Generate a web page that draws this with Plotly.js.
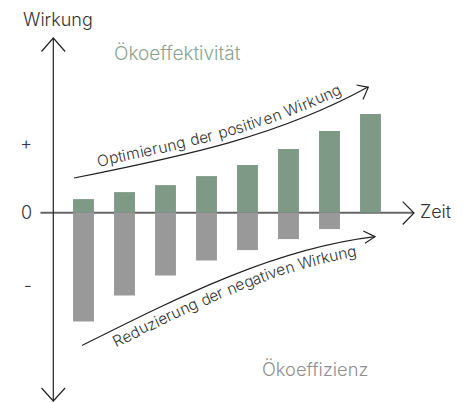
<!DOCTYPE html>
<html><head><meta charset="utf-8">
<script src="https://cdn.plot.ly/plotly-3.0.1.min.js"></script>
<style>html,body{margin:0;padding:0;background:#fff}</style>
</head><body><div id="chart" style="width:465px;height:402px"></div>
<script>
// ---- data ----
const periods = ['P1','P2','P3','P4','P5','P6','P7','P8'];
const positiveImpact = [1.35, 2.05, 2.75, 3.65, 4.75, 6.35, 8.15, 9.85];
const negativeImpact = [-10.9, -8.3, -6.3, -4.8, -3.75, -2.65, -1.65, 0];
const tickValues = [6.86, 0, -7.34];
const tickLabels = ['+', '0', '-'];
const yTitle = 'Wirkung';
const xTitle = 'Zeit';
const topLabel = 'Ökoeffektivität';
const bottomLabel = 'Ökoeffizienz';
const upperArrowText = 'Optimierung der positiven Wirkung';
const lowerArrowText = 'Reduzierung der negativen Wirkung';

// ---- layout geometry ----
const L = 40, T = 30, W = 420, H = 370;
const FONT = 'Inter';
const WEIGHT = 300;
const px = x => (x - L) / W;
const py = y => 1 - (y - T) / H;
const P = (x, y) => px(x).toFixed(5) + ',' + py(y).toFixed(5);

const upperCurve = [[74,178],[184,156],[278,136.5],[368,87]];
const lowerCurve = [[82,345.5],[182,295.5],[275,248.7],[375,236.7]];

function bez(c, t) {
  const u = 1 - t;
  const a = u*u*u, b = 3*u*u*t, d = 3*u*t*t, e = t*t*t;
  return [a*c[0][0]+b*c[1][0]+d*c[2][0]+e*c[3][0], a*c[0][1]+b*c[1][1]+d*c[2][1]+e*c[3][1]];
}
function sample(c) {
  const out = []; let s = 0, prev = null;
  for (let i = 0; i <= 600; i++) {
    const p = bez(c, i/600);
    if (prev) s += Math.hypot(p[0]-prev[0], p[1]-prev[1]);
    out.push({x:p[0], y:p[1], s:s}); prev = p;
  }
  return out;
}
function atS(sm, s) {
  let i = 1;
  while (i < sm.length-1 && sm[i].s < s) i++;
  const a = sm[i-1], b = sm[i];
  const f = (s - a.s) / ((b.s - a.s) || 1);
  const dx = b.x - a.x, dy = b.y - a.y, len = Math.hypot(dx, dy) || 1;
  return {x: a.x + f*dx, y: a.y + f*dy, tx: dx/len, ty: dy/len};
}
function sAtX(sm, x) {
  for (let i = 1; i < sm.length; i++) if (sm[i].x >= x) return sm[i].s;
  return sm[sm.length-1].s;
}
const canvas = document.createElement('canvas');
const ctx = canvas.getContext('2d');
function curvedText(text, curve, xStart, xEnd, side, offset, size, color) {
  const sm = sample(curve);
  ctx.font = WEIGHT + ' ' + size + 'px ' + FONT;
  const chars = Array.from(text);
  const widths = chars.map(ch => ctx.measureText(ch).width);
  const total = widths.reduce((a, b) => a + b, 0);
  const s0 = sAtX(sm, xStart), s1 = sAtX(sm, xEnd);
  const k = (s1 - s0) / total;
  const anns = []; let cum = 0;
  chars.forEach((ch, i) => {
    const sc = s0 + k * (cum + widths[i] / 2);
    cum += widths[i];
    if (ch === ' ') return;
    const p = atS(sm, sc);
    const nx = p.ty, ny = -p.tx; // "up" normal
    const cx = p.x + side * offset * nx, cy = p.y + side * offset * ny;
    anns.push({
      xref:'paper', yref:'paper', x: px(cx), y: py(cy), text: ch, showarrow:false,
      xanchor:'center', yanchor:'middle', textangle: Math.atan2(p.ty, p.tx) * 180 / Math.PI,
      font:{family:FONT, size:size, color:color, weight:WEIGHT}, borderpad:0
    });
  });
  return anns;
}
function curvePath(c) {
  return 'M' + P(c[0][0], c[0][1]) + ' C' + P(c[1][0], c[1][1]) + ' ' + P(c[2][0], c[2][1]) + ' ' + P(c[3][0], c[3][1]);
}

const textDark = '#333333';
const lineDark = '#222222';

const traces = [
  {type:'bar', x:periods, y:positiveImpact, marker:{color:'#7e9a87', line:{width:0}}, width:0.51, hoverinfo:'skip'},
  {type:'bar', x:periods, y:negativeImpact, marker:{color:'#999999', line:{width:0}}, width:0.51, hoverinfo:'skip'}
];

const shapes = [
  {type:'line', xref:'paper', yref:'paper', x0:px(40.5), x1:px(413), y0:py(212.7), y1:py(212.7), line:{color:'#666666', width:2}, layer:'below'},
  {type:'line', xref:'paper', yref:'paper', x0:px(53.3), x1:px(53.3), y0:py(38), y1:py(401), line:{color:lineDark, width:1.2}},
  {type:'path', xref:'paper', yref:'paper', path:'M' + P(41.5,51.5) + ' L' + P(53.3,38) + ' L' + P(65.1,51.5), line:{color:lineDark, width:1.2}},
  {type:'path', xref:'paper', yref:'paper', path:'M' + P(41.5,388) + ' L' + P(53.3,401) + ' L' + P(65.1,388), line:{color:lineDark, width:1.2}},
  {type:'path', xref:'paper', yref:'paper', path:'M' + P(402.7,201.7) + ' L' + P(414,213) + ' L' + P(402.7,224.5), line:{color:lineDark, width:1.2}},
  {type:'path', xref:'paper', yref:'paper', path:curvePath(upperCurve), line:{color:lineDark, width:1.2}},
  {type:'path', xref:'paper', yref:'paper', path:'M' + P(356.5,85) + ' L' + P(368.3,87.3) + ' L' + P(363,99.5), line:{color:lineDark, width:1.2}},
  {type:'path', xref:'paper', yref:'paper', path:curvePath(lowerCurve), line:{color:lineDark, width:1.2}},
  {type:'path', xref:'paper', yref:'paper', path:'M' + P(363.3,231) + ' L' + P(375,236.7) + ' L' + P(365,243.3), line:{color:lineDark, width:1.2}}
];

const annotations = [
  {xref:'paper', yref:'paper', x:px(22), y:py(19), text:yTitle, showarrow:false, xanchor:'left', yanchor:'middle', font:{family:FONT, size:18, color:textDark, weight:WEIGHT}, borderpad:0},
  {xref:'paper', yref:'paper', x:px(418.5), y:py(211.5), text:xTitle, showarrow:false, xanchor:'left', yanchor:'middle', font:{family:FONT, size:18, color:textDark, weight:WEIGHT}, borderpad:0},
  {xref:'paper', yref:'paper', x:px(112.5), y:py(53.5), text:topLabel, showarrow:false, xanchor:'left', yanchor:'middle', font:{family:FONT, size:19, color:'#88a591', weight:WEIGHT}, borderpad:0},
  {xref:'paper', yref:'paper', x:px(260.5), y:py(368.5), text:bottomLabel, showarrow:false, xanchor:'left', yanchor:'middle', font:{family:FONT, size:18.3, color:'#8f8f8f', weight:WEIGHT}, borderpad:0}
].concat(
  curvedText(upperArrowText, upperCurve, 99, 345, 1, 12, 15.5, textDark),
  curvedText(lowerArrowText, lowerCurve, 108, 354, -1, 11.5, 15.5, textDark)
);

const layout = {
  width:465, height:402,
  margin:{l:L, r:465 - L - W, t:T, b:402 - T - H, pad:0},
  paper_bgcolor:'#ffffff', plot_bgcolor:'#ffffff',
  showlegend:false, barmode:'relative',
  xaxis:{type:'category', range:[-1.061, 9.183], showticklabels:false, showgrid:false, zeroline:false, showline:false, ticks:'', fixedrange:true},
  yaxis:{range:[-18.74, 18.26], tickmode:'array', tickvals:tickValues, ticktext:tickLabels, showgrid:false, zeroline:false, showline:false, ticks:'', ticklabelstandoff:7, tickfont:{family:FONT, size:18, color:textDark, weight:WEIGHT}, fixedrange:true},
  shapes:shapes, annotations:annotations
};
Plotly.newPlot('chart', traces, layout, {staticPlot:true, displayModeBar:false});
</script></body></html>
